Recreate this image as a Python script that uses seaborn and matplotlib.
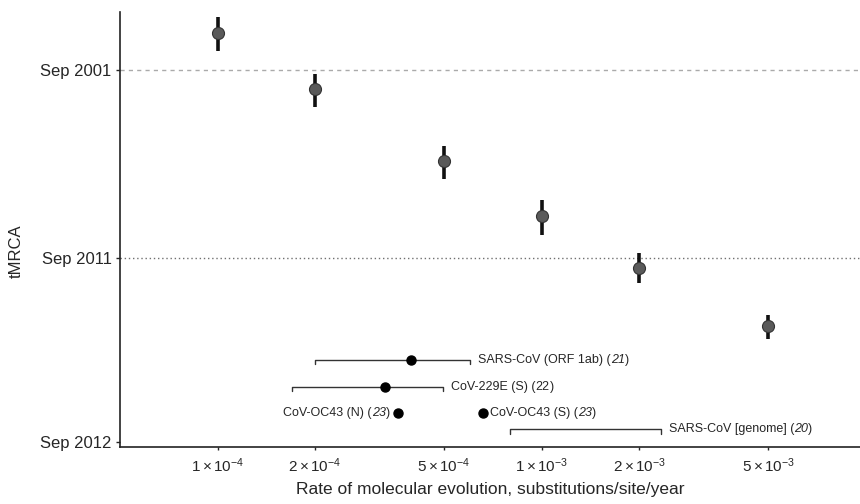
import numpy as np
import pandas as pd
import matplotlib
matplotlib.use("Agg")
import matplotlib.pyplot as plt
import matplotlib.transforms as mtransforms
from matplotlib.ticker import FixedLocator, NullLocator
import seaborn as sns

# ---------------- data ----------------
rates = [1e-4, 2e-4, 5e-4, 1e-3, 2e-3, 5e-3]
tmrca = [1995.33, 2003.99, 2009.14, 2010.91, 2011.79, 2012.30]
tmrca_lo = [1991.53, 2002.21, 2008.41, 2010.50, 2011.59, 2012.23]
tmrca_hi = [1998.78, 2005.73, 2009.86, 2011.30, 2011.96, 2012.37]

# label split into (plain prefix, reference number, italic?)
ref_names = ["SARS-CoV (ORF 1ab)", "CoV-229E (S)", "CoV-OC43 (N)",
             "CoV-OC43 (S)", "SARS-CoV [genome]"]
ref_nums = ["21", "22", "23", "23", "20"]
ref_italic = [True, False, True, True, True]
ref_rate = [3.96e-4, 3.29e-4, 3.61e-4, 6.59e-4, None]
ref_lo = [2.0e-4, 1.70e-4, None, None, 8.0e-4]
ref_hi = [6.0e-4, 4.96e-4, None, None, 2.33e-3]

xticks = [1e-4, 2e-4, 5e-4, 1e-3, 2e-3, 5e-3]
xtick_labels = ["$1\\times10^{-4}$", "$2\\times10^{-4}$", "$5\\times10^{-4}$",
                "$1\\times10^{-3}$", "$2\\times10^{-3}$", "$5\\times10^{-3}$"]
ytick_years = [2001.667, 2011.667, 2012.667]
ytick_labels = ["Sep 2001", "Sep 2011", "Sep 2012"]

T0 = 2012.785  # reference sampling time for log time-before axis

# ---------------- style ----------------
sns.set_style("ticks")
plt.rcParams["font.family"] = ["Liberation Sans", "DejaVu Sans"]
plt.rcParams["mathtext.fontset"] = "custom"
plt.rcParams["mathtext.rm"] = "Liberation Sans"
plt.rcParams["mathtext.it"] = "Liberation Sans:italic"
plt.rcParams["mathtext.default"] = "rm"

fig = plt.figure(figsize=(8.6, 5.04), dpi=100)
ax = fig.add_axes([120 / 860, (504 - 447) / 504, 740 / 860, 435 / 504])

df = pd.DataFrame({"rate": rates,
                   "t": [T0 - y for y in tmrca],
                   "t_lo": [T0 - y for y in tmrca_hi],
                   "t_hi": [T0 - y for y in tmrca_lo]})

ax.set_xscale("log")
ax.set_yscale("log")

# reference lines
ax.axhline(T0 - ytick_years[0], color="#aaaaaa", lw=1.0, ls=(0, (3, 3)), zorder=1)
ax.axhline(T0 - ytick_years[1], color="#707070", lw=1.0, ls=(0, (1, 2)), zorder=1)

# error bars
ax.vlines(df["rate"], df["t_lo"], df["t_hi"], color="#111111", lw=2.6, zorder=3)
sns.scatterplot(data=df, x="rate", y="t", ax=ax, s=75, color="#5a5a5a",
                edgecolor="#333333", linewidth=0.8, zorder=4, legend=False)

# literature estimates (placed below, x in data units, y in axes units)
blend = mtransforms.blended_transform_factory(ax.transData, ax.transAxes)
row_y = [0.200, 0.139, 0.079, 0.079, 0.041]
tick_d = 0.010
FS = 9


def chained_label(x, y, dx, name, num, italic, align_right=False):
    """Draw 'name (num)' with num optionally italic, anchored at (x, y)."""
    parts = [(name + " (", "normal"), (num, "italic" if italic else "normal"), (")", "normal")]
    if align_right:
        # draw from right to left
        prev = ax.annotate(parts[2][0], xy=(x, y), xycoords=blend, xytext=(dx, 0),
                           textcoords="offset points", ha="right", va="center",
                           fontsize=FS)
        for txt, st in reversed(parts[:2]):
            prev = ax.annotate(txt, xy=(0, 0), xycoords=prev, ha="right", va="bottom",
                               fontsize=FS, fontstyle=st)
    else:
        prev = ax.annotate(parts[0][0], xy=(x, y), xycoords=blend, xytext=(dx, 0),
                           textcoords="offset points", ha="left", va="center",
                           fontsize=FS)
        for txt, st in parts[1:]:
            prev = ax.annotate(txt, xy=(1, 0), xycoords=prev, ha="left", va="bottom",
                               fontsize=FS, fontstyle=st)


for i in range(len(ref_names)):
    y = row_y[i]
    if ref_lo[i] is not None:
        ax.plot([ref_lo[i], ref_lo[i], ref_hi[i], ref_hi[i]],
                [y - tick_d, y, y, y - tick_d], transform=blend,
                color="#333333", lw=1.0, zorder=3)
    if ref_rate[i] is not None:
        ax.plot([ref_rate[i]], [y], transform=blend, marker="o", ms=6.5,
                color="black", ls="none", zorder=4)
    if i == 2:
        chained_label(ref_rate[i], y, -6, ref_names[i], ref_nums[i], ref_italic[i],
                      align_right=True)
    elif i == 3:
        chained_label(ref_rate[i], y, 5, ref_names[i], ref_nums[i], ref_italic[i])
    else:
        chained_label(ref_hi[i], y, 6, ref_names[i], ref_nums[i], ref_italic[i])

# axes formatting
ax.set_xlim(5.0e-5, 9.6e-3)
ax.set_ylim(0.111, 22.6)
ax.xaxis.set_major_locator(FixedLocator(xticks))
ax.xaxis.set_minor_locator(NullLocator())
ax.set_xticklabels(xtick_labels, fontsize=11)
ax.yaxis.set_major_locator(FixedLocator([T0 - y for y in ytick_years]))
ax.yaxis.set_minor_locator(NullLocator())
ax.set_yticklabels(ytick_labels, fontsize=12)
ax.tick_params(axis="x", length=2, width=1, pad=5)
ax.tick_params(axis="y", length=3, width=1, pad=3)

for s in ["top", "right"]:
    ax.spines[s].set_visible(False)
for s in ["left", "bottom"]:
    ax.spines[s].set_linewidth(1.2)
    ax.spines[s].set_color("#222222")

ax.set_xlabel("Rate of molecular evolution, substitutions/site/year", fontsize=12.5, labelpad=5)
ax.set_ylabel("tMRCA", fontsize=12)
ax.yaxis.set_label_coords(-0.13, 0.45)

fig.savefig("out.png", dpi=100)
